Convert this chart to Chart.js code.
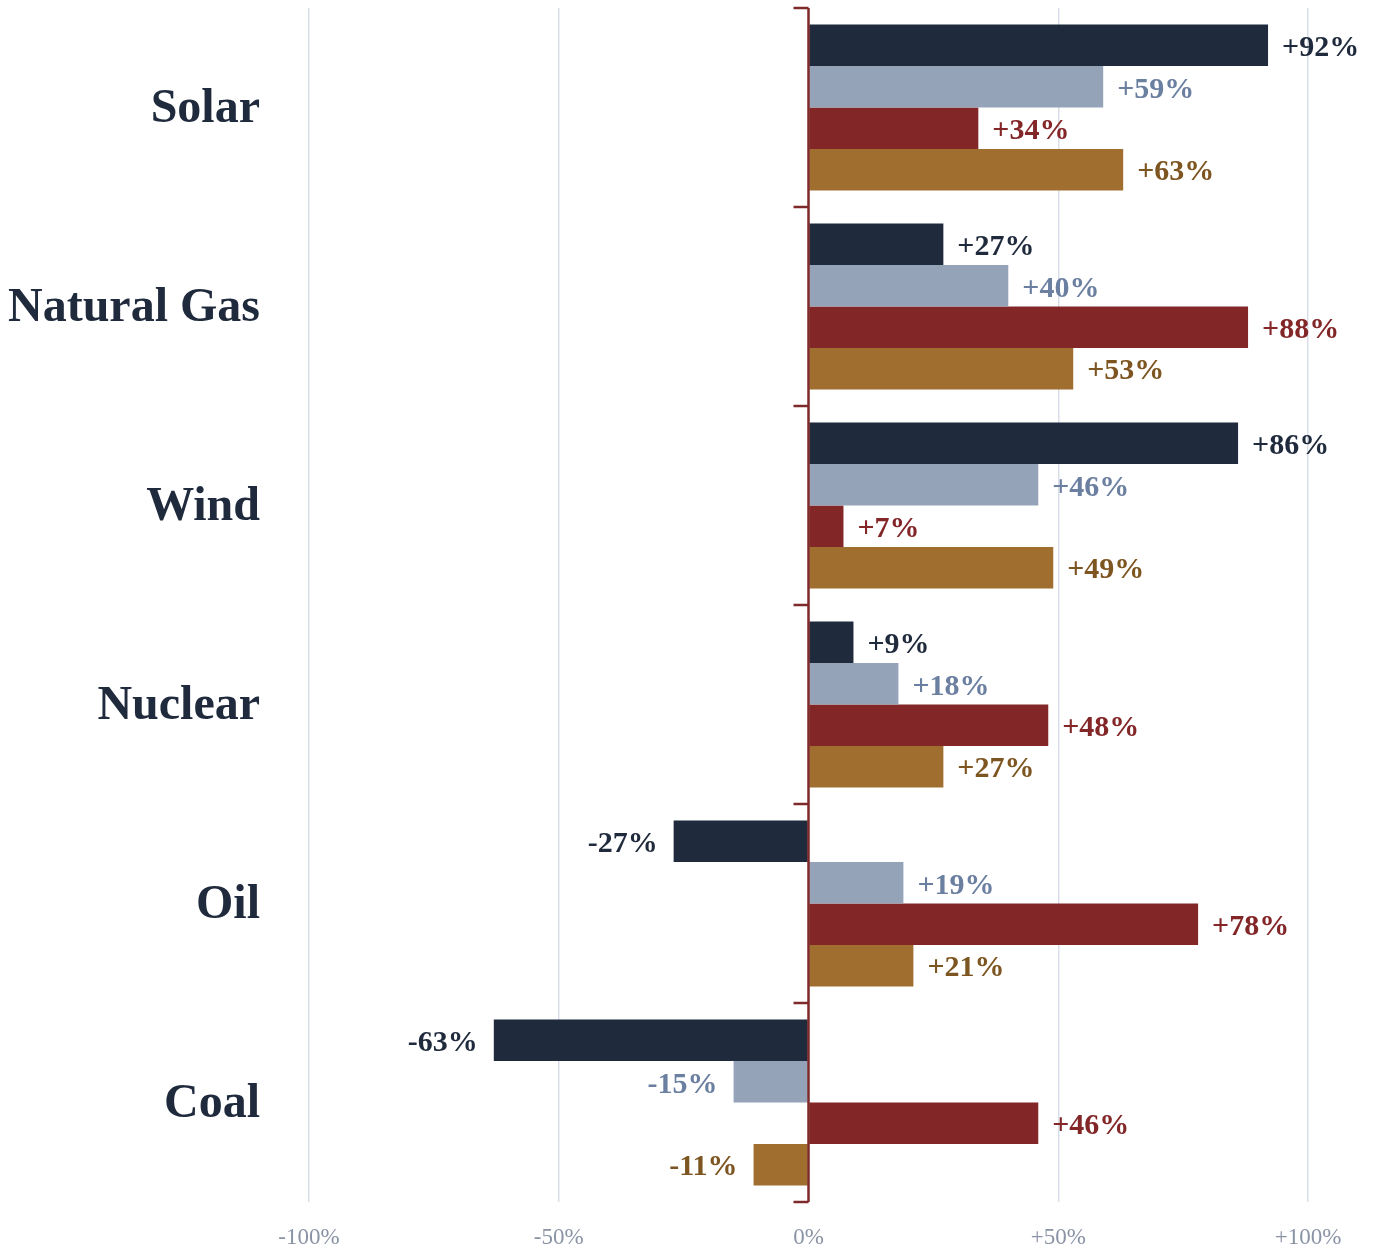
<!DOCTYPE html>
<html>
<head>
<meta charset="utf-8">
<script src="https://cdn.jsdelivr.net/npm/chart.js@4"></script>
<style>
  body { margin: 0; background: #fff; }
  #wrap { width: 1375px; height: 1249px; position: relative; }
</style>
</head>
<body>
<div id="wrap"><canvas id="energyChart"></canvas></div>
<script>
// categories and series (percent change)
const categories = ['Solar', 'Natural Gas', 'Wind', 'Nuclear', 'Oil', 'Coal'];
const seriesA = [92, 27, 86, 9, -27, -63];
const seriesB = [59, 40, 46, 18, 19, -15];
const seriesC = [34, 88, 7, 48, 78, 46];
const seriesD = [63, 53, 49, 27, 21, -11];
const xTicks = [-100, -50, 0, 50, 100];

const barColors = ['#1f2a3c', '#94a3b8', '#832628', '#a06f30'];
const labelColors = ['#1f2a3c', '#6b7fa0', '#832628', '#7d5520'];
const serif = "'Liberation Serif', 'DejaVu Serif', serif";

function fmt(v) {
    return (v > 0 ? '+' : '') + v + '%';
}

// zero line with category boundary ticks
const zeroAxis = {
    id: 'zeroAxis',
    afterDatasetsDraw(chart) {
        const { ctx, chartArea, scales } = chart;
        const x0 = scales.x.getPixelForValue(0);
        const n = categories.length;
        const step = (chartArea.bottom - chartArea.top) / n;
        ctx.save();
        ctx.strokeStyle = '#7f2a2a';
        ctx.lineWidth = 2.5;
        ctx.beginPath();
        ctx.moveTo(x0, chartArea.top);
        ctx.lineTo(x0, chartArea.bottom);
        for (let i = 0; i <= n; i++) {
            const y = chartArea.top + step * i;
            ctx.moveTo(x0 - 15, y);
            ctx.lineTo(x0, y);
        }
        ctx.stroke();
        ctx.restore();
    }
};

// category names on the left, placed by the y scale
const categoryLabels = {
    id: 'categoryLabels',
    afterDraw(chart) {
        const { ctx, scales } = chart;
        ctx.save();
        ctx.font = 'bold 48px ' + serif;
        ctx.fillStyle = '#1f2a3c';
        ctx.textAlign = 'right';
        ctx.textBaseline = 'middle';
        categories.forEach((c, i) => {
            ctx.fillText(c, 260, scales.y.getPixelForValue(i) + 2);
        });
        ctx.restore();
    }
};

// value labels at bar ends
const valueLabels = {
    id: 'valueLabels',
    afterDatasetsDraw(chart) {
        const ctx = chart.ctx;
        ctx.save();
        ctx.font = 'bold 30px ' + serif;
        ctx.textBaseline = 'middle';
        chart.data.datasets.forEach((ds, i) => {
            chart.getDatasetMeta(i).data.forEach((bar, j) => {
                const v = ds.data[j];
                ctx.fillStyle = labelColors[i];
                if (v >= 0) {
                    ctx.textAlign = 'left';
                    ctx.fillText(fmt(v), bar.x + 14, bar.y + 3);
                } else {
                    ctx.textAlign = 'right';
                    ctx.fillText(fmt(v), bar.x - 16, bar.y + 3);
                }
            });
        });
        ctx.restore();
    }
};

new Chart(document.getElementById('energyChart'), {
    type: 'bar',
    data: {
        labels: categories,
        datasets: [seriesA, seriesB, seriesC, seriesD].map((d, i) => ({
            data: d,
            backgroundColor: barColors[i],
            categoryPercentage: 0.834,
            barPercentage: 1.0
        }))
    },
    options: {
        indexAxis: 'y',
        responsive: true,
        maintainAspectRatio: false,
        animation: false,
        layout: { padding: { top: 8, right: 67, left: 0, bottom: 0 } },
        plugins: {
            legend: { display: false },
            tooltip: { enabled: false }
        },
        scales: {
            x: {
                min: -100,
                max: 100,
                afterBuildTicks: (axis) => { axis.ticks = xTicks.map(v => ({ value: v })); },
                afterFit: (axis) => { axis.height = 47; },
                border: { display: false },
                grid: {
                    drawTicks: false,
                    lineWidth: 1.5,
                    color: (c) => c.tick && c.tick.value === 0 ? 'rgba(0,0,0,0)' : '#d9dfe9'
                },
                ticks: {
                    padding: 22,
                    color: '#8a93a5',
                    maxRotation: 0,
                    font: { family: serif, size: 23 },
                    callback: (v) => fmt(v)
                }
            },
            y: {
                afterFit: (axis) => { axis.width = 309; },
                border: { display: false },
                grid: { display: false, drawTicks: false },
                ticks: { display: false }
            }
        }
    },
    plugins: [zeroAxis, valueLabels, categoryLabels]
});
</script>
</body>
</html>
